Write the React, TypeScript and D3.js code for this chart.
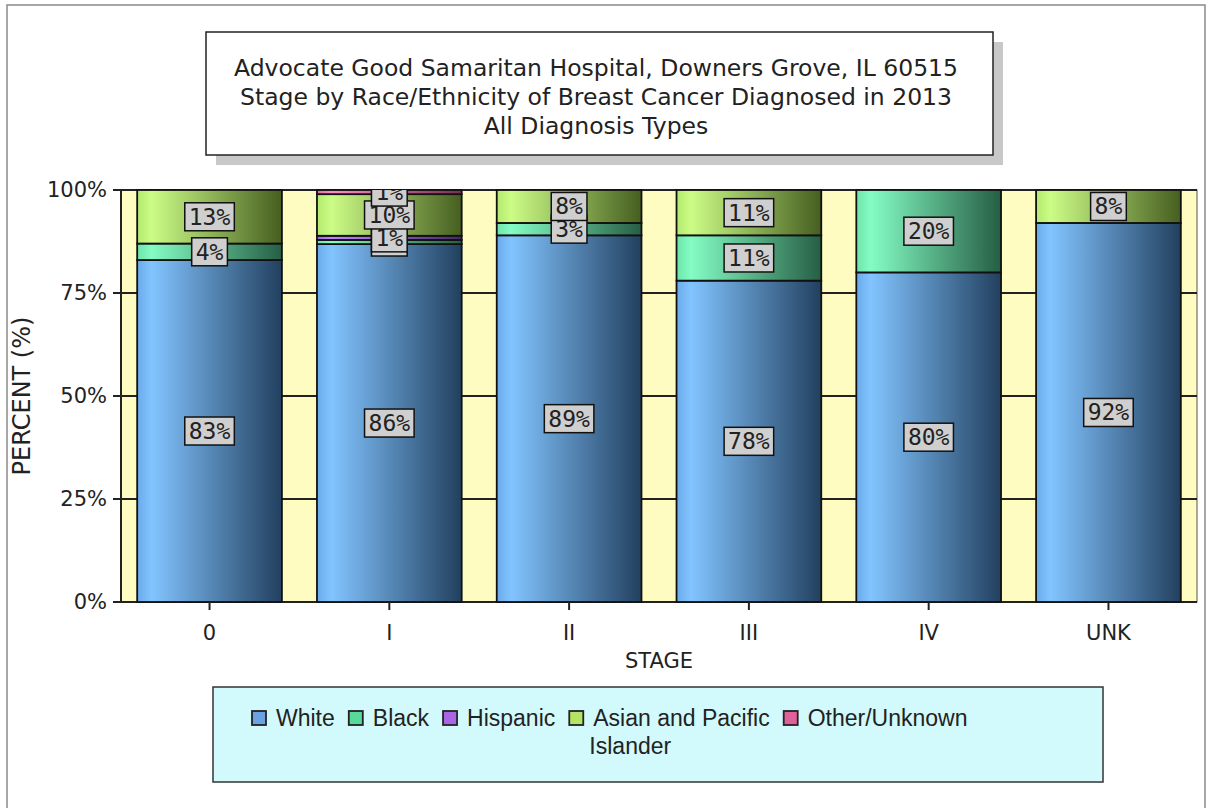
import { useRef, useEffect } from 'react';
import * as d3 from 'd3';

const STAGES = ['0', 'I', 'II', 'III', 'IV', 'UNK'];
const SERIES = ['White', 'Black', 'Hispanic', 'Asian and Pacific Islander', 'Other/Unknown'];
const WHITE = [83, 86, 89, 78, 80, 92];
const BLACK = [4, 1, 3, 11, 20, 0];
const HISPANIC = [0, 1, 0, 0, 0, 0];
const ASIAN = [13, 10, 8, 11, 0, 8];
const OTHER = [0, 1, 0, 0, 0, 0];
const Y_TICKS = [0, 0.25, 0.5, 0.75, 1];
const TITLE_LINES = [
  'Advocate Good Samaritan Hospital, Downers Grove, IL 60515',
  'Stage by Race/Ethnicity of Breast Cancer Diagnosed in 2013',
  'All Diagnosis Types',
];

// edge, brightest, dark end of the horizontal bar gradient
const GRADS: Record<string, [string, string, string]> = {
  White: ['#6aaaea', '#82c4ff', '#22405f'],
  Black: ['#6ce4aa', '#84fcc4', '#265e44'],
  Hispanic: ['#a464e4', '#c084ff', '#482868'],
  'Asian and Pacific Islander': ['#b2ea6e', '#ccfc86', '#465e20'],
  'Other/Unknown': ['#e46ca4', '#ff8cc4', '#783050'],
};
const SWATCH: Record<string, string> = {
  White: '#6aa2e2',
  Black: '#58d89a',
  Hispanic: '#a866e6',
  'Asian and Pacific Islander': '#b4e466',
  'Other/Unknown': '#e0609a',
};

const FONT = '"DejaVu Sans", Verdana, sans-serif';
const MONO = '"DejaVu Sans Mono", monospace';
const LEGEND_FONT = '"Liberation Sans", Arial, sans-serif';

export default function App() {
  const svgRef = useRef<SVGSVGElement>(null);

  useEffect(() => {
    if (!svgRef.current) return;
    const svg = d3.select(svgRef.current);
    svg.selectAll('*').remove();

    const W = 1207;
    const H = 808;
    const left = 121;
    const right = 1197;
    const top = 190;
    const bottom = 602;

    svg.attr('width', W).attr('height', H);

    const rows = STAGES.map((s, i) => ({
      stage: s,
      White: WHITE[i],
      Black: BLACK[i],
      Hispanic: HISPANIC[i],
      'Asian and Pacific Islander': ASIAN[i],
      'Other/Unknown': OTHER[i],
    }));
    const stacked = d3
      .stack<any>()
      .keys(SERIES)
      .offset(d3.stackOffsetExpand)(rows);

    const x = d3
      .scaleBand<string>()
      .domain(STAGES)
      .range([left, right])
      .paddingInner(0.195)
      .paddingOuter(0.09);
    const y = d3.scaleLinear().domain([0, 1]).range([bottom, top]);

    const defs = svg.append('defs');
    SERIES.forEach((s, i) => {
      const [edge, light, dark] = GRADS[s];
      const g = defs
        .append('linearGradient')
        .attr('id', `grad${i}`)
        .attr('x1', 0)
        .attr('x2', 1)
        .attr('y1', 0)
        .attr('y2', 0);
      g.append('stop').attr('offset', 0).attr('stop-color', edge);
      g.append('stop').attr('offset', 0.1).attr('stop-color', light);
      g.append('stop').attr('offset', 1).attr('stop-color', dark);
    });
    defs
      .append('clipPath')
      .attr('id', 'plotClip')
      .append('rect')
      .attr('x', left)
      .attr('y', top)
      .attr('width', right - left)
      .attr('height', bottom - top);

    // outer frame
    svg
      .append('rect')
      .attr('x', 7)
      .attr('y', 5)
      .attr('width', 1198)
      .attr('height', 820)
      .attr('fill', '#ffffff')
      .attr('stroke', '#8a8a8a')
      .attr('stroke-width', 1.5);

    // title box with shadow
    svg
      .append('rect')
      .attr('x', 216)
      .attr('y', 42)
      .attr('width', 787)
      .attr('height', 123)
      .attr('fill', '#c8c8c8');
    svg
      .append('rect')
      .attr('x', 206)
      .attr('y', 32)
      .attr('width', 787)
      .attr('height', 123)
      .attr('fill', '#ffffff')
      .attr('stroke', '#222')
      .attr('stroke-width', 1.5);
    TITLE_LINES.forEach((t, i) => {
      svg
        .append('text')
        .attr('x', 596)
        .attr('y', 76 + i * 29)
        .attr('text-anchor', 'middle')
        .attr('font-family', FONT)
        .attr('font-size', 23.5)
        .attr('fill', '#222')
        .text(t);
    });

    // plot background
    svg
      .append('rect')
      .attr('x', left)
      .attr('y', top)
      .attr('width', right - left)
      .attr('height', bottom - top)
      .attr('fill', '#fffcc2')
      .attr('stroke', '#555')
      .attr('stroke-width', 1);

    // grid lines and y ticks
    Y_TICKS.forEach((t) => {
      svg
        .append('line')
        .attr('x1', left - 8)
        .attr('x2', right)
        .attr('y1', y(t))
        .attr('y2', y(t))
        .attr('stroke', '#222')
        .attr('stroke-width', t === 0 || t === 1 ? 2 : 1.8);
      svg
        .append('text')
        .attr('x', 107)
        .attr('y', y(t) + 7)
        .attr('text-anchor', 'end')
        .attr('font-family', FONT)
        .attr('font-size', 21)
        .attr('fill', '#222')
        .text(d3.format('.0%')(t));
    });
    svg
      .append('line')
      .attr('x1', left)
      .attr('x2', left)
      .attr('y1', top)
      .attr('y2', bottom)
      .attr('stroke', '#222')
      .attr('stroke-width', 2);

    // bars
    stacked.forEach((layer, si) => {
      svg
        .append('g')
        .selectAll('rect')
        .data(layer.filter((d) => d[1] - d[0] > 0))
        .join('rect')
        .attr('x', (d) => x(d.data.stage)!)
        .attr('width', x.bandwidth())
        .attr('y', (d) => y(d[1]))
        .attr('height', (d) => y(d[0]) - y(d[1]))
        .attr('fill', `url(#grad${si})`)
        .attr('stroke', '#111')
        .attr('stroke-width', 1.8);
    });

    // value labels
    const labels = svg.append('g').attr('clip-path', 'url(#plotClip)');
    stacked.forEach((layer, si) => {
      const key = SERIES[si];
      layer
        .filter((d) => d[1] - d[0] > 0)
        .forEach((d) => {
          const cx = x(d.data.stage)! + x.bandwidth() / 2;
          const cy = (y(d[0]) + y(d[1])) / 2;
          const g = labels.append('g');
          const txt = g
            .append('text')
            .attr('x', cx)
            .attr('y', cy + 8)
            .attr('text-anchor', 'middle')
            .attr('font-family', MONO)
            .attr('font-size', 23)
            .attr('fill', '#222')
            .text(`${d.data[key]}%`);
          const w = (txt.node() as SVGTextElement).getComputedTextLength() + 8;
          g.insert('rect', 'text')
            .attr('x', cx - w / 2)
            .attr('y', cy - 14)
            .attr('width', w)
            .attr('height', 28)
            .attr('fill', '#cfcfcf')
            .attr('stroke', '#111')
            .attr('stroke-width', 1.5);
        });
    });

    // x axis ticks and labels
    STAGES.forEach((s) => {
      const cx = x(s)! + x.bandwidth() / 2;
      svg
        .append('line')
        .attr('x1', cx)
        .attr('x2', cx)
        .attr('y1', bottom)
        .attr('y2', bottom + 8)
        .attr('stroke', '#222')
        .attr('stroke-width', 2);
      svg
        .append('text')
        .attr('x', cx)
        .attr('y', 640)
        .attr('text-anchor', 'middle')
        .attr('font-family', FONT)
        .attr('font-size', 21)
        .attr('fill', '#222')
        .text(s);
    });

    svg
      .append('text')
      .attr('x', (left + right) / 2)
      .attr('y', 668)
      .attr('text-anchor', 'middle')
      .attr('font-family', FONT)
      .attr('font-size', 21)
      .attr('fill', '#222')
      .text('STAGE');
    svg
      .append('text')
      .attr('transform', `translate(30, ${(top + bottom) / 2}) rotate(-90)`)
      .attr('text-anchor', 'middle')
      .attr('font-family', FONT)
      .attr('font-size', 24)
      .attr('fill', '#222')
      .text('PERCENT (%)');

    // legend
    svg
      .append('rect')
      .attr('x', 213)
      .attr('y', 687)
      .attr('width', 890)
      .attr('height', 95)
      .attr('fill', '#d2fafc')
      .attr('stroke', '#333')
      .attr('stroke-width', 1.5);
    let lx = 252;
    SERIES.forEach((s) => {
      const label = s === 'Asian and Pacific Islander' ? 'Asian and Pacific' : s;
      svg
        .append('rect')
        .attr('x', lx)
        .attr('y', 711)
        .attr('width', 14)
        .attr('height', 14)
        .attr('fill', SWATCH[s])
        .attr('stroke', '#222')
        .attr('stroke-width', 1.8);
      const t = svg
        .append('text')
        .attr('x', lx + 24)
        .attr('y', 726)
        .attr('font-family', LEGEND_FONT)
        .attr('font-size', 23)
        .attr('fill', '#222')
        .text(label);
      if (label !== s) {
        svg
          .append('text')
          .attr('x', lx + 61)
          .attr('y', 754)
          .attr('text-anchor', 'middle')
          .attr('font-family', LEGEND_FONT)
          .attr('font-size', 23)
          .attr('fill', '#222')
          .text('Islander');
      }
      lx += 24 + (t.node() as SVGTextElement).getComputedTextLength() + 14;
    });
  }, []);

  return (
    <svg
      ref={svgRef}
      style={{ position: 'absolute', left: 0, top: 0, background: '#fff' }}
      aria-label="Stage by race/ethnicity stacked percent bar chart"
    />
  );
}
